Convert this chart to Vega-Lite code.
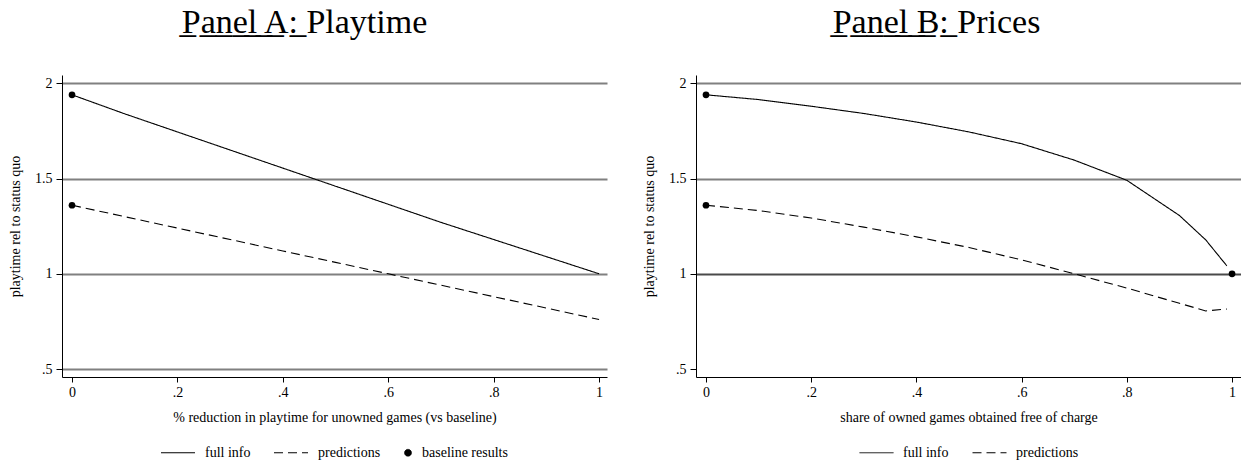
{
  "$schema": "https://vega.github.io/schema/vega-lite/v6.json",
  "background": "white",
  "padding": {"left": 8, "top": 6, "right": 0, "bottom": 0},
  "spacing": 35,
  "datasets": {
    "a_lines": [
      {"series": "full info", "x": 0, "y": 1.94},
      {"series": "full info", "x": 0.1, "y": 1.84},
      {"series": "full info", "x": 0.2, "y": 1.745},
      {"series": "full info", "x": 0.3, "y": 1.65},
      {"series": "full info", "x": 0.4, "y": 1.555},
      {"series": "full info", "x": 0.5, "y": 1.46},
      {"series": "full info", "x": 0.6, "y": 1.365},
      {"series": "full info", "x": 0.7, "y": 1.27},
      {"series": "full info", "x": 0.8, "y": 1.18},
      {"series": "full info", "x": 0.9, "y": 1.09},
      {"series": "full info", "x": 1, "y": 1.0},
      {"series": "predictions", "x": 0, "y": 1.36},
      {"series": "predictions", "x": 0.1, "y": 1.3},
      {"series": "predictions", "x": 0.2, "y": 1.24},
      {"series": "predictions", "x": 0.3, "y": 1.18},
      {"series": "predictions", "x": 0.4, "y": 1.12},
      {"series": "predictions", "x": 0.5, "y": 1.06},
      {"series": "predictions", "x": 0.6, "y": 1.0},
      {"series": "predictions", "x": 0.7, "y": 0.94},
      {"series": "predictions", "x": 0.8, "y": 0.88},
      {"series": "predictions", "x": 0.9, "y": 0.82},
      {"series": "predictions", "x": 1, "y": 0.76}
    ],
    "a_pts": [
      {"series": "baseline results", "x": 0, "y": 1.94},
      {"series": "baseline results", "x": 0, "y": 1.36}
    ],
    "b_lines": [
      {"series": "full info", "x": 0, "y": 1.94},
      {"series": "full info", "x": 0.1, "y": 1.915},
      {"series": "full info", "x": 0.2, "y": 1.88},
      {"series": "full info", "x": 0.3, "y": 1.842},
      {"series": "full info", "x": 0.4, "y": 1.797},
      {"series": "full info", "x": 0.5, "y": 1.745},
      {"series": "full info", "x": 0.6, "y": 1.683},
      {"series": "full info", "x": 0.7, "y": 1.597},
      {"series": "full info", "x": 0.8, "y": 1.491},
      {"series": "full info", "x": 0.9, "y": 1.306},
      {"series": "full info", "x": 0.95, "y": 1.178},
      {"series": "full info", "x": 0.99, "y": 1.042},
      {"series": "predictions", "x": 0, "y": 1.36},
      {"series": "predictions", "x": 0.1, "y": 1.332},
      {"series": "predictions", "x": 0.2, "y": 1.293},
      {"series": "predictions", "x": 0.3, "y": 1.245},
      {"series": "predictions", "x": 0.4, "y": 1.194},
      {"series": "predictions", "x": 0.5, "y": 1.138},
      {"series": "predictions", "x": 0.6, "y": 1.073},
      {"series": "predictions", "x": 0.7, "y": 1.0},
      {"series": "predictions", "x": 0.8, "y": 0.925},
      {"series": "predictions", "x": 0.9, "y": 0.845},
      {"series": "predictions", "x": 0.95, "y": 0.805},
      {"series": "predictions", "x": 0.99, "y": 0.815}
    ],
    "b_pts": [
      {"series": "baseline results", "x": 0, "y": 1.94},
      {"series": "baseline results", "x": 0, "y": 1.36},
      {"series": "baseline results", "x": 1, "y": 1.0}
    ]
  },
  "hconcat": [
    {
      "width": 545,
      "height": 302,
      "title": {"text": "P\u0332a\u0332n\u0332e\u0332l\u0332 \u0332A\u0332:\u0332 Playtime", "dx": -30},
      "layer": [
        {
          "data": {"name": "a_lines"},
          "mark": {"type": "line", "color": "black", "strokeWidth": 1.1},
          "encoding": {
            "x": {"field": "x", "type": "quantitative", "scale": {"domain": [-0.019, 1.015], "nice": false, "zero": false},
              "axis": {"title": "% reduction in playtime for unowned games (vs baseline)", "values": [0, 0.2, 0.4, 0.6, 0.8, 1], "grid": false, "tickSize": 5, "labelPadding": 3, "titlePadding": 11,
                "labelExpr": "datum.value > 0 && datum.value < 1 ? substring(format(datum.value, '~g'), 1) : format(datum.value, '~g')"}},
            "y": {"field": "y", "type": "quantitative", "scale": {"domain": [0.458, 2.044], "nice": false, "zero": false},
              "axis": {"title": "playtime rel to status quo", "values": [0.5, 1, 1.5, 2], "grid": true, "gridColor": "#808080", "gridWidth": 1.8, "tickSize": 6, "labelPadding": 4, "titlePadding": 12,
                "labelExpr": "datum.value > 0 && datum.value < 1 ? substring(format(datum.value, '~g'), 1) : format(datum.value, '~g')"}},
            "strokeDash": {"field": "series", "type": "nominal",
              "scale": {"domain": ["full info", "predictions", "baseline results"], "range": [[1, 0], [9, 5], [1, 0]]},
              "legend": {
                "title": null, "orient": "bottom", "direction": "horizontal",
                "symbolType": "stroke", "symbolSize": 1156, "symbolStrokeWidth": 1, "symbolStrokeColor": "black",
                "labelFont": "Liberation Serif", "labelFontSize": 14, "labelColor": "black", "labelOffset": 9, "columnPadding": 21, "offset": 11,
                "encode": {
                  "symbols": {"update": {
                    "shape": {"signal": "datum.value === 'baseline results' ? 'circle' : 'stroke'"},
                    "size": {"signal": "datum.value === 'baseline results' ? 45 : 1156"},
                    "fill": {"signal": "datum.value === 'baseline results' ? 'black' : 'transparent'"},
                    "x": {"signal": "datum.value === 'baseline results' ? 4 : 17"},
                    "stroke": {"value": "black"}
                  }},
                  "labels": {"update": {
                    "dx": {"signal": "datum.value === 'baseline results' ? -26 : 0"}
                  }}
                }
              }}
          }
        },
        {
          "data": {"name": "a_pts"},
          "mark": {"type": "point", "filled": true, "color": "black", "size": 45, "opacity": 1},
          "encoding": {
            "x": {"field": "x", "type": "quantitative"},
            "y": {"field": "y", "type": "quantitative"}
          }
        }
      ]
    },
    {
      "width": 545,
      "height": 302,
      "title": {"text": "P\u0332a\u0332n\u0332e\u0332l\u0332 \u0332B\u0332:\u0332 Prices", "dx": -32},
      "layer": [
        {
          "data": {"name": "b_lines"},
          "mark": {"type": "line", "color": "black", "strokeWidth": 1.1},
          "encoding": {
            "x": {"field": "x", "type": "quantitative", "scale": {"domain": [-0.019, 1.017], "nice": false, "zero": false},
              "axis": {"title": "share of owned games obtained free of charge", "values": [0, 0.2, 0.4, 0.6, 0.8, 1], "grid": false, "tickSize": 5, "labelPadding": 3, "titlePadding": 11,
                "labelExpr": "datum.value > 0 && datum.value < 1 ? substring(format(datum.value, '~g'), 1) : format(datum.value, '~g')"}},
            "y": {"field": "y", "type": "quantitative", "scale": {"domain": [0.458, 2.044], "nice": false, "zero": false},
              "axis": {"title": "playtime rel to status quo", "values": [0.5, 1, 1.5, 2], "grid": true,
                "gridColor": {"condition": {"test": "datum.value === 1", "value": "#4a4a4a"}, "value": "#808080"},
                "gridOpacity": {"condition": {"test": "datum.value === 0.5", "value": 0}, "value": 1},
                "gridWidth": 1.8, "tickSize": 6, "labelPadding": 4, "titlePadding": 12,
                "labelExpr": "datum.value > 0 && datum.value < 1 ? substring(format(datum.value, '~g'), 1) : format(datum.value, '~g')"}},
            "strokeDash": {"field": "series", "type": "nominal",
              "scale": {"domain": ["full info", "predictions"], "range": [[1, 0], [9, 5]]},
              "legend": {
                "title": null, "orient": "bottom", "direction": "horizontal",
                "symbolType": "stroke", "symbolSize": 1156, "symbolStrokeWidth": 1, "symbolStrokeColor": "black",
                "labelFont": "Liberation Serif", "labelFontSize": 14, "labelColor": "black", "labelOffset": 9, "columnPadding": 21, "offset": 11
              }}
          }
        },
        {
          "data": {"name": "b_pts"},
          "mark": {"type": "point", "filled": true, "color": "black", "size": 45, "opacity": 1},
          "encoding": {
            "x": {"field": "x", "type": "quantitative"},
            "y": {"field": "y", "type": "quantitative"}
          }
        }
      ]
    }
  ],
  "resolve": {"scale": {"strokeDash": "independent", "x": "independent", "y": "independent"}, "legend": {"strokeDash": "independent"}},
  "config": {
    "view": {"stroke": null},
    "font": "Liberation Serif",
    "title": {"font": "Liberation Serif", "fontSize": 34, "fontWeight": "normal", "color": "black", "offset": 35, "anchor": "middle"},
    "axis": {"domainColor": "black", "tickColor": "black", "domainWidth": 1, "tickWidth": 1,
      "labelFont": "Liberation Serif", "labelFontSize": 14, "labelColor": "black",
      "titleFont": "Liberation Serif", "titleFontSize": 14, "titleFontWeight": "normal", "titleColor": "black"},
    "legend": {"layout": {"bottom": {"anchor": "middle"}}}
  }
}
